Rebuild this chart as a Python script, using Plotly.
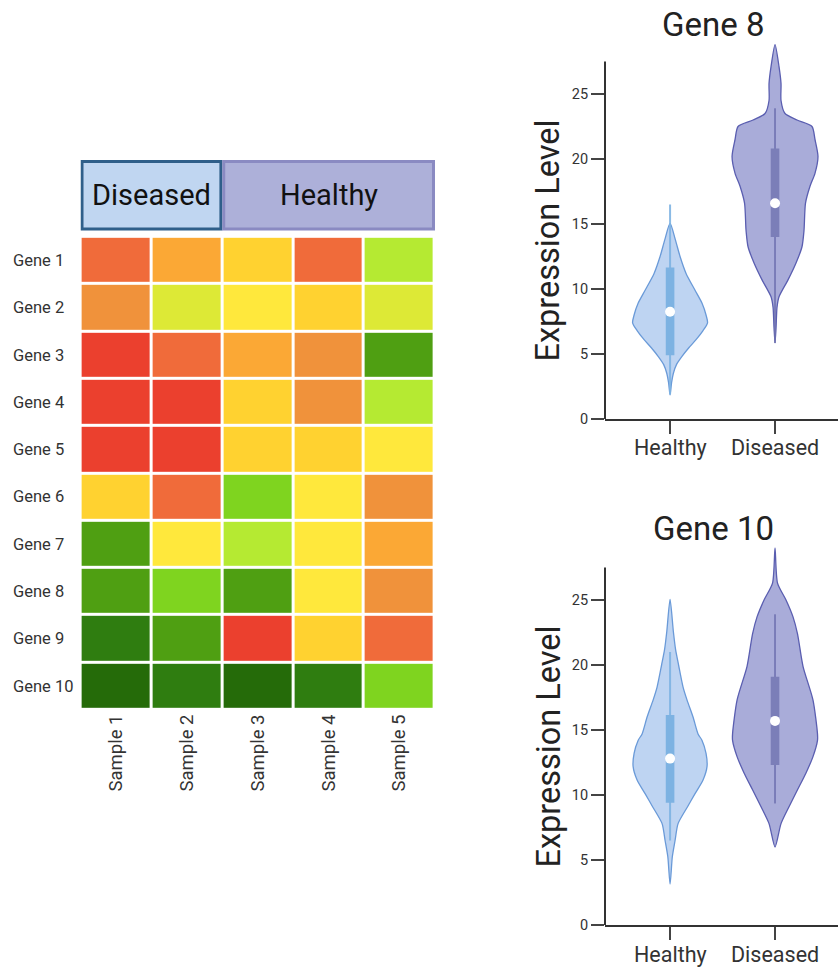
import plotly.graph_objects as go

# ---------------------------------------------------------------- data
genes = ["Gene 1", "Gene 2", "Gene 3", "Gene 4", "Gene 5",
         "Gene 6", "Gene 7", "Gene 8", "Gene 9", "Gene 10"]
samples = ["Sample 1", "Sample 2", "Sample 3", "Sample 4", "Sample 5"]

# expression level class per gene (rows) and sample (columns): 0 = lowest, 11 = highest
expression_level = [
    [10, 8, 7, 10, 4],
    [9, 5, 6, 7, 5],
    [11, 10, 8, 9, 2],
    [11, 11, 7, 9, 4],
    [11, 11, 7, 7, 6],
    [7, 10, 3, 6, 9],
    [2, 6, 4, 6, 8],
    [2, 3, 2, 6, 9],
    [1, 2, 11, 7, 10],
    [0, 1, 0, 1, 3],
]

# sample groups: label, first column, last column
group_labels = ["Diseased", "Healthy"]
group_first = [0, 2]
group_last = [1, 4]

violin_categories = ["Healthy", "Diseased"]

# kernel density profiles (expression value, density)
gene8_healthy_values = [1.85, 2.8, 3.5, 4.2, 4.8, 5.5, 6.1, 6.8, 7.4, 8.0, 8.9, 9.9, 11.2, 12.5, 13.8, 15.05]
gene8_healthy_density = [0, 0.006, 0.013, 0.026, 0.047, 0.076, 0.104, 0.132, 0.150, 0.144, 0.128, 0.100, 0.064, 0.040, 0.021, 0]
gene8_diseased_values = [5.85, 7.0, 8.6, 9.4, 10.7, 12.0, 13.25, 14.5, 16.6, 17.9, 18.9, 20.2, 21.5, 22.5, 23.0, 23.5, 24.5, 25.8, 27.1, 28.8]
gene8_diseased_density = [0, 0.004, 0.008, 0.016, 0.052, 0.084, 0.108, 0.116, 0.122, 0.140, 0.160, 0.172, 0.160, 0.148, 0.088, 0.040, 0.024, 0.024, 0.016, 0]
gene10_healthy_values = [3.15, 5.25, 6.5, 7.8, 9.1, 10.1, 11.15, 12.2, 13.2, 14.2, 14.7, 16.0, 17.3, 18.3, 20.0, 21.2, 22.6, 25.05]
gene10_healthy_density = [0, 0.009, 0.020, 0.032, 0.070, 0.100, 0.132, 0.148, 0.144, 0.128, 0.112, 0.092, 0.068, 0.052, 0.034, 0.022, 0.013, 0]
gene10_diseased_values = [6.0, 7.8, 9.1, 10.4, 11.7, 12.95, 14.2, 14.7, 17.3, 19.9, 22.4, 23.7, 25.0, 26.3, 29.0]
gene10_diseased_density = [0, 0.024, 0.056, 0.090, 0.124, 0.152, 0.170, 0.170, 0.152, 0.112, 0.090, 0.072, 0.044, 0.010, 0]

# box statistics: lower whisker, Q1, median, Q3, upper whisker
gene8_healthy_stats = [1.9, 4.9, 8.25, 11.65, 16.5]
gene8_diseased_stats = [5.85, 14.0, 16.6, 20.8, 23.9]
gene10_healthy_stats = [6.5, 9.4, 12.8, 16.15, 21.0]
gene10_diseased_stats = [9.35, 12.3, 15.7, 19.1, 23.9]

y_ticks = [0, 5, 10, 15, 20, 25]
y_axis_top = 27.5

# ---------------------------------------------------------------- styles
W, H = 838, 968
FONT = "Roboto"


def fx(px):
    return px / W


def fy(px):
    return 1 - px / H


level_colors = ["#256b09", "#2f7d10", "#4f9f12", "#7fd41f", "#b5ea32", "#dde936",
                "#ffe83c", "#ffd230", "#fba835", "#f0923b", "#f06b3a", "#eb402e"]
n_lv = len(level_colors) - 1
colorscale = [[i / n_lv, c] for i, c in enumerate(level_colors)]

group_fill = ["#c0d6f1", "#adb0d9"]
group_edge = ["#2f5f8a", "#8a8ac2"]

violin_style = {
    "Healthy": dict(fill="#bed4f2", edge="#6a9ad8", box="#7db2e2", whisker="rgba(125,178,226,0.9)"),
    "Diseased": dict(fill="#a9acd9", edge="#5a5eb0", box="#7b7eb8", whisker="rgba(110,113,175,0.8)"),
}
DENS_SCALE = 2.38   # x-axis units per unit of density
BOX_HALF = 0.041

fig = go.Figure()

# ---------------------------------------------------------------- heatmap
fig.add_trace(go.Heatmap(
    z=expression_level, x=samples, y=genes,
    colorscale=colorscale, zmin=0, zmax=n_lv, showscale=False,
    xgap=3, ygap=3, hoverinfo="skip",
    xaxis="x", yaxis="y",
))

# group header boxes
for label, c0, c1, fill, edge in zip(group_labels, group_first, group_last, group_fill, group_edge):
    fig.add_shape(type="rect", xref="x", yref="paper",
                  x0=c0 - 0.5 + 0.02, x1=c1 + 0.5 - 0.02,
                  y0=fy(229), y1=fy(161.5),
                  fillcolor=fill, line=dict(color=edge, width=3), layer="above")
    fig.add_annotation(text=label, xref="x", yref="paper",
                       x=(c0 + c1) / 2, y=fy(195), showarrow=False,
                       font=dict(family=FONT, size=29, color="#111"),
                       xanchor="center", yanchor="middle")

# gene labels, left aligned
for g in genes:
    fig.add_annotation(text=g, xref="paper", yref="y", x=fx(11), y=g,
                       showarrow=False, xanchor="left", yanchor="middle",
                       font=dict(family=FONT, size=16.5, color="#333"))

# ---------------------------------------------------------------- violins
panels = [
    ("x2", "y2", [
        (gene8_healthy_values, gene8_healthy_density, gene8_healthy_stats),
        (gene8_diseased_values, gene8_diseased_density, gene8_diseased_stats),
    ]),
    ("x3", "y3", [
        (gene10_healthy_values, gene10_healthy_density, gene10_healthy_stats),
        (gene10_diseased_values, gene10_diseased_density, gene10_diseased_stats),
    ]),
]

for xa, ya, groups in panels:
    for pos, (cat, (vals, dens, stats)) in enumerate(zip(violin_categories, groups)):
        st = violin_style[cat]
        right_x = [pos + d * DENS_SCALE for d in dens]
        left_x = [pos - d * DENS_SCALE for d in reversed(dens)][1:]
        fig.add_trace(go.Scatter(
            x=right_x + left_x, y=list(vals) + list(reversed(vals))[1:],
            mode="lines", fill="toself", fillcolor=st["fill"],
            line=dict(color=st["edge"], width=1.3, shape="spline", smoothing=0.7),
            hoverinfo="skip", showlegend=False, xaxis=xa, yaxis=ya,
        ))
        lo, q1, med, q3, hi = stats
        fig.add_trace(go.Scatter(
            x=[pos, pos], y=[lo, hi], mode="lines",
            line=dict(color=st["whisker"], width=2),
            hoverinfo="skip", showlegend=False, xaxis=xa, yaxis=ya,
        ))
        fig.add_trace(go.Scatter(
            x=[pos - BOX_HALF, pos + BOX_HALF, pos + BOX_HALF, pos - BOX_HALF, pos - BOX_HALF],
            y=[q1, q1, q3, q3, q1], mode="lines", fill="toself",
            fillcolor=st["box"], line=dict(width=0, color=st["box"]),
            hoverinfo="skip", showlegend=False, xaxis=xa, yaxis=ya,
        ))
        fig.add_trace(go.Scatter(
            x=[pos], y=[med], mode="markers",
            marker=dict(color="white", size=10, line=dict(width=0)),
            hoverinfo="skip", showlegend=False, xaxis=xa, yaxis=ya,
        ))
    # vertical axis line, stopping a little above the top tick
    fig.add_shape(type="line", xref=f"{xa} domain", yref=ya, x0=0, x1=0, y0=0, y1=y_axis_top,
                  line=dict(color="#333", width=2))

# panel titles, axis titles and category labels
for xa, title, title_y, top, bottom, label_y in [("x2", "Gene 8", 24, 62, 419, 447),
                                                 ("x3", "Gene 10", 528, 568, 925, 954)]:
    fig.add_annotation(text=title, xref="paper", yref="paper", x=fx(713), y=fy(title_y),
                       showarrow=False, xanchor="center", yanchor="middle",
                       font=dict(family=FONT, size=33, color="#222"))
    fig.add_annotation(text="Expression Level", xref="paper", yref="paper",
                       x=fx(548), y=fy((top + bottom) / 2), textangle=-90,
                       showarrow=False, xanchor="center", yanchor="middle",
                       font=dict(family=FONT, size=32.5, color="#222"))
    for pos, cat in enumerate(violin_categories):
        fig.add_annotation(text=cat, xref=xa, yref="paper", x=pos, y=fy(label_y),
                           showarrow=False, xanchor="center", yanchor="middle",
                           font=dict(family=FONT, size=21.5, color="#333"))

# ---------------------------------------------------------------- layout
violin_x = dict(range=[-0.62, 1.6], tickmode="array", tickvals=[0, 1], showticklabels=False,
                showline=True, linecolor="#333", linewidth=2, ticks="outside", ticklen=13,
                tickwidth=2, tickcolor="#444", showgrid=False, zeroline=False, automargin=False,
                domain=[fx(605), 1.0])
violin_y = dict(range=[0, 30], tickmode="array", tickvals=y_ticks,
                showline=False, ticks="outside", ticklen=13, automargin=False,
                tickwidth=1.5, tickcolor="#444", showgrid=False, zeroline=False,
                tickfont=dict(family=FONT, size=14.5, color="#333"))

fig.update_layout(
    width=W, height=H, margin=dict(l=0, r=0, t=0, b=0, pad=0), autosize=False,
    paper_bgcolor="white", plot_bgcolor="white", showlegend=False,
    font=dict(family=FONT),
    xaxis=dict(domain=[fx(80.5), fx(435)], tickangle=-90, showgrid=False, zeroline=False,
               showline=False, ticks="", automargin=False,
               tickfont=dict(family=FONT, size=18.5, color="#333")),
    yaxis=dict(domain=[fy(709.8), fy(236.8)], autorange="reversed", showticklabels=False,
               showgrid=False, zeroline=False, ticks="", automargin=False),
    xaxis2=dict(anchor="y2", **violin_x),
    yaxis2=dict(anchor="x2", domain=[fy(419), fy(29)], **violin_y),
    xaxis3=dict(anchor="y3", **violin_x),
    yaxis3=dict(anchor="x3", domain=[fy(925), fy(535)], **violin_y),
)

fig.write_html("out.html")
